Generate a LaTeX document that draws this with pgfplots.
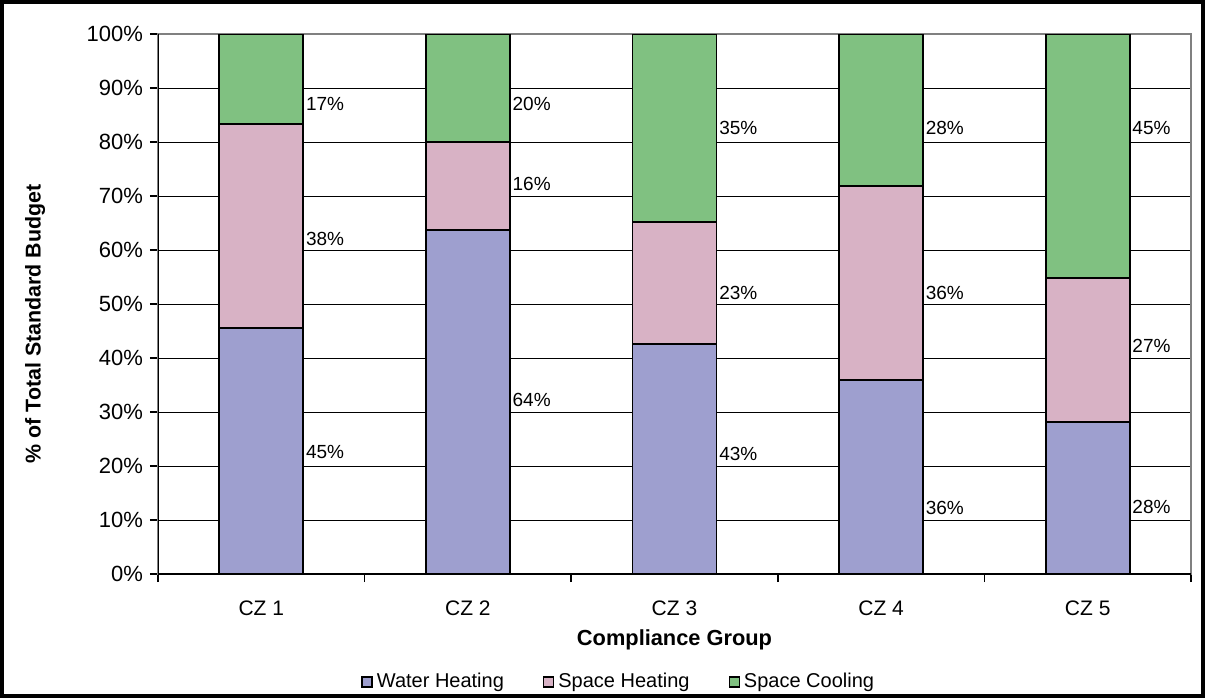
\documentclass[border=0pt]{standalone}
\usepackage{fontspec}
\setmainfont{Liberation Sans}
\usepackage{pgfplots}
\pgfplotsset{compat=1.18}
\definecolor{water}{HTML}{9E9FCF}
\definecolor{sheat}{HTML}{D8B2C5}
\definecolor{scool}{HTML}{80C181}

\begin{document}
\begin{tikzpicture}
\path[use as bounding box] (0,0) rectangle (602.5pt,349pt);
\begin{axis}[
  at={(79pt,62pt)}, anchor=south west,
  scale only axis, width=516.5pt, height=270pt,
  ybar stacked, bar width=42pt,
  xmin=-0.5, xmax=4.5, ymin=0, ymax=100,
  xtick={0,1,2,3,4},
  xticklabels={CZ 1,CZ 2,CZ 3,CZ 4,CZ 5},
  major x tick style={draw=none},
  minor xtick={-0.5,0.5,1.5,2.5,3.5,4.5},
  minor x tick style={black, line width=0.8pt},
  minor tick length=4pt,
  xtick pos=bottom, ytick pos=left,
  ytick={0,10,...,100},
  yticklabel={\pgfmathprintnumber{\tick}\%},
  tick align=outside,
  major tick length=4pt,
  y tick style={black, line width=0.6pt},
  ymajorgrids=true,
  major grid style={black, line width=0.5pt},
  axis line style={draw=gray, line width=0.8pt},
  /pgf/number format/assume math mode=true,
  yticklabel style={font=\fontsize{11}{12}\selectfont},
  xticklabel style={font=\fontsize{10.5}{12}\selectfont, yshift=-6pt},
  xlabel={\textbf{Compliance Group}},
  xlabel style={font=\fontsize{10.9}{12}\selectfont, at={(axis description cs:0.5,-0.122)}, anchor=center},
  ylabel={\textbf{\% of Total Standard Budget}},
  ylabel style={font=\fontsize{10.7}{12}\selectfont, at={(axis description cs:-0.119,0.463)}, anchor=center, rotate=0},
  legend columns=3,
  legend style={draw=none, fill=none, font=\fontsize{10}{11}\selectfont, at={(axis description cs:0.447,-0.2)}, anchor=center,
    /tikz/every even column/.append style={column sep=17.5pt}},
  legend image code/.code={\draw[#1, draw=black, line width=0.7pt] (0pt,-2.5pt) rectangle (5pt,2.5pt);},
  every axis plot/.append style={draw=black, line width=0.9pt},
]
\addplot[fill=water] coordinates {(0,45.5) (1,63.7) (2,42.6) (3,35.9) (4,28.1)};
\addplot[fill=sheat] coordinates {(0,37.8) (1,16.3) (2,22.6) (3,36.0) (4,26.7)};
\addplot[fill=scool] coordinates {(0,16.7) (1,20.0) (2,34.8) (3,28.1) (4,45.2)};
\legend{Water Heating, Space Heating, Space Cooling}
\draw[black, line width=0.9pt] (rel axis cs:0,1) -- (rel axis cs:0,0) -- (rel axis cs:1,0);
\end{axis}
\begin{axis}[
  at={(79pt,62pt)}, anchor=south west,
  scale only axis, width=516.5pt, height=270pt,
  xmin=-0.5, xmax=4.5, ymin=0, ymax=100,
  axis lines=none,
  nodes near coords, point meta=explicit symbolic,
  every node near coord/.append style={anchor=west, font=\fontsize{9.5}{11}\selectfont, inner sep=1pt},
]
\addplot[only marks, mark=none, nodes near coords align={anchor=west}] coordinates {
 (0.205,22.6) [45\%] (0.205,62.0) [38\%] (0.205,87.0) [17\%]
 (1.205,32.2) [64\%] (1.205,72.2) [16\%] (1.205,87.0) [20\%]
 (2.205,22.2) [43\%] (2.205,52.0) [23\%] (2.205,82.6) [35\%]
 (3.205,12.2) [36\%] (3.205,52.0) [36\%] (3.205,82.6) [28\%]
 (4.205,12.4) [28\%] (4.205,42.2) [27\%] (4.205,82.6) [45\%]
};
\end{axis}
\draw[line width=2pt] (1pt,1pt) rectangle (601.5pt,348pt);
\end{tikzpicture}
\end{document}
